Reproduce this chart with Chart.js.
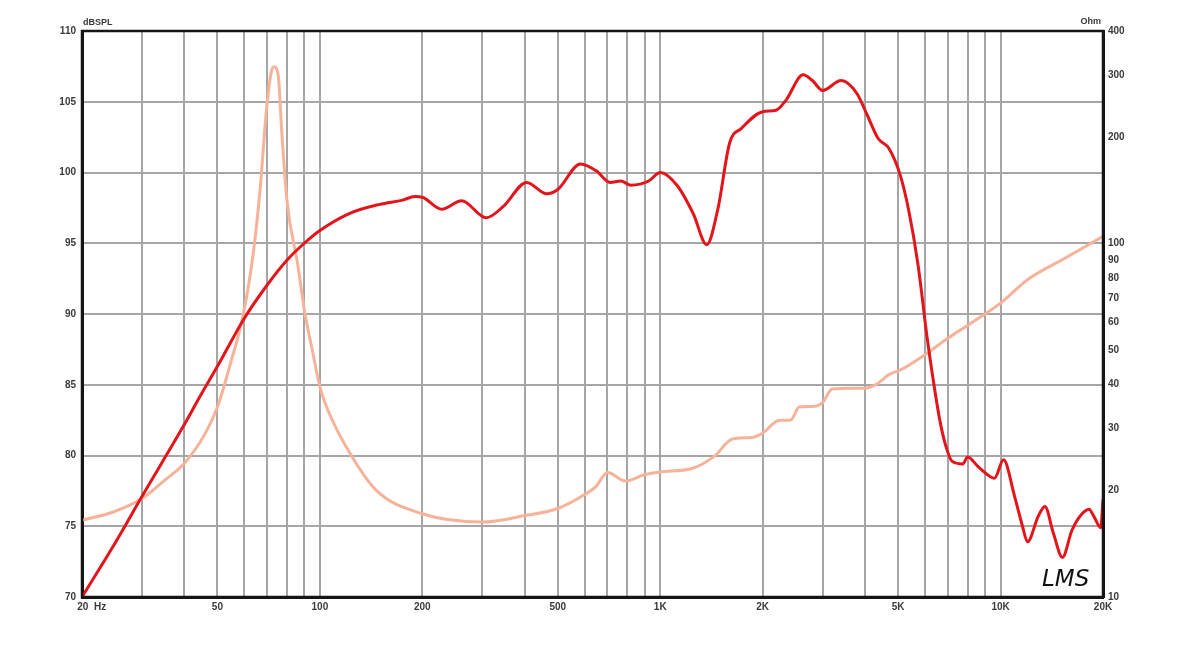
<!DOCTYPE html>
<html>
<head>
<meta charset="utf-8">
<script src="https://cdn.jsdelivr.net/npm/chart.js@4/dist/chart.umd.min.js"></script>
<style>
  html, body { margin: 0; padding: 0; background: #fff; }
  #wrap { width: 1182px; height: 666px; }
</style>
</head>
<body>
<div id="wrap"><canvas id="myChart" width="1182" height="666"></canvas></div>
<script>
// data
const splFreq = [20, 25, 30, 40, 44.5, 50, 60, 70, 80, 90, 100, 122, 150, 175, 190, 200, 228, 261, 308, 346, 405, 464, 500, 583, 650, 712, 766, 820, 925, 1000, 1120, 1250, 1370, 1475, 1600, 1730, 2000, 2190, 2340, 2630, 2800, 3000, 3400, 3780, 4050, 4370, 4700, 5060, 5370, 5720, 6080, 6300, 6630, 6900, 7200, 7750, 8000, 8600, 9330, 9600, 10200, 11000, 11600, 12000, 12900, 13500, 14300, 15200, 16200, 17100, 18200, 18800, 19700, 20000];
const splDb = [70, 73.8, 77.1, 82.2, 84.2, 86.3, 89.7, 92.05, 93.8, 95.0, 95.9, 97.1, 97.75, 98.05, 98.3, 98.25, 97.4, 98.0, 96.8, 97.6, 99.3, 98.5, 98.8, 100.6, 100.1, 99.3, 99.4, 99.1, 99.4, 100.0, 99.1, 97.1, 94.9, 97.35, 102.1, 103.1, 104.3, 104.4, 105.1, 106.9, 106.5, 105.8, 106.5, 105.6, 104.1, 102.4, 101.7, 99.9, 97.35, 93.5, 88.4, 85.8, 82.5, 80.7, 79.6, 79.4, 79.9, 79.2, 78.5, 78.4, 79.7, 77.1, 75.0, 73.9, 75.7, 76.4, 74.5, 72.8, 74.7, 75.7, 76.2, 75.7, 74.9, 76.9];

const zFreq = [20, 24.7, 30, 35, 40, 46, 50, 54.5, 59.6, 63.9, 67, 69.4, 71.9, 73.3, 75.4, 77.3, 80, 86.3, 90, 95, 100, 106, 119, 146, 200, 300, 400, 500, 600, 646, 700, 790, 900, 1000, 1240, 1440, 1630, 1860, 2000, 2230, 2420, 2560, 2800, 3000, 3200, 4000, 4300, 4700, 5100, 6000, 6900, 8100, 10000, 12000, 15500, 20000];
const zOhm = [16.5, 17.4, 19.0, 21.4, 23.9, 29.0, 34.5, 45.5, 63.3, 96, 149, 230, 305, 317, 301, 206, 133, 86, 65, 50, 39.4, 33.5, 26.8, 20.1, 17.2, 16.3, 17.0, 17.8, 19.5, 20.5, 22.5, 21.3, 22.2, 22.6, 23.1, 25.0, 28.0, 28.3, 29.1, 31.6, 31.7, 34.5, 34.6, 35.5, 38.8, 39.0, 39.9, 42.6, 44.0, 48.5, 53.5, 59.2, 67.9, 79.1, 91.1, 104.9];

// axis ticks
const xTicks = [20, 30, 40, 50, 60, 70, 80, 90, 100, 200, 300, 400, 500, 600, 700, 800, 900, 1000, 2000, 3000, 4000, 5000, 6000, 7000, 8000, 9000, 10000, 20000];
const xTickLabels = ["       20  Hz", "", "", "50", "", "", "", "", "100", "200", "", "", "500", "", "", "", "", "1K", "2K", "", "", "5K", "", "", "", "", "10K", "20K"];
const ohmTicks = [10, 20, 30, 40, 50, 60, 70, 80, 90, 100, 200, 300, 400];

const tickFont = { family: "Liberation Sans", size: 10, weight: "bold" };
const tickColor = "#3a3a3a";
const gridColor = "#a6a6a6";

// frame + axis titles
const decor = {
  id: "decor",
  afterDraw(chart) {
    const { ctx, chartArea: a } = chart;
    ctx.save();
    ctx.strokeStyle = "#151515";
    ctx.lineWidth = 2.5;
    ctx.strokeRect(a.left, a.top, a.right - a.left, a.bottom - a.top);
    ctx.fillStyle = tickColor;
    ctx.font = "bold 9px 'Liberation Sans'";
    ctx.textBaseline = "alphabetic";
    ctx.textAlign = "left";
    ctx.fillText("dBSPL", a.left + 1, a.top - 6);
    ctx.textAlign = "right";
    ctx.fillText("Ohm", a.right - 2, a.top - 7);
    ctx.fillStyle = "#111";
    ctx.textAlign = "left";
    ctx.font = "italic 23px 'DejaVu Sans'";
    ctx.fillText("LMS", a.right - 61, a.bottom - 11);
    ctx.restore();
  },
};

const config = {
  type: "line",
  data: {
    datasets: [
      {
        label: "SPL",
        data: splFreq.map((f, i) => ({ x: f, y: splDb[i] })),
        yAxisID: "y",
        borderColor: "#e4141b",
        borderWidth: 3,
        pointRadius: 0,
        cubicInterpolationMode: "monotone",
      },
      {
        label: "Impedance",
        data: zFreq.map((f, i) => ({ x: f, y: zOhm[i] })),
        yAxisID: "y2",
        borderColor: "#f6b39a",
        borderWidth: 3,
        pointRadius: 0,
        cubicInterpolationMode: "monotone",
      },
    ],
  },
  options: {
    responsive: false,
    animation: false,
    layout: { padding: { top: 31 } },
    plugins: { legend: { display: false }, tooltip: { enabled: false } },
    scales: {
      x: {
        type: "logarithmic",
        min: 20,
        max: 20000,
        afterBuildTicks: (s) => { s.ticks = xTicks.map((v) => ({ value: v })); },
        afterFit: (s) => { s.height = 69; },
        ticks: {
          autoSkip: false,
          maxRotation: 0,
          padding: 4,
          font: tickFont,
          color: tickColor,
          callback: (v, i) => xTickLabels[i],
        },
        grid: { color: gridColor, lineWidth: 2, drawTicks: false },
        border: { color: "#151515", width: 3 },
      },
      y: {
        position: "left",
        min: 70,
        max: 110,
        afterFit: (s) => { s.width = 82; },
        ticks: { stepSize: 5, padding: 6, font: tickFont, color: tickColor },
        grid: { color: gridColor, lineWidth: 2, drawTicks: false },
        border: { color: "#151515", width: 3 },
      },
      y2: {
        type: "logarithmic",
        position: "right",
        min: 10,
        max: 400,
        afterBuildTicks: (s) => { s.ticks = ohmTicks.map((v) => ({ value: v })); },
        afterFit: (s) => { s.width = 79; },
        ticks: {
          autoSkip: false,
          padding: 5,
          font: tickFont,
          color: tickColor,
          callback: (v, i) => String(ohmTicks[i]),
        },
        grid: { display: false, drawTicks: false },
        border: { color: "#151515", width: 3 },
      },
    },
  },
  plugins: [decor],
};

const myChart = new Chart(document.getElementById("myChart"), config);
</script>
</body>
</html>
